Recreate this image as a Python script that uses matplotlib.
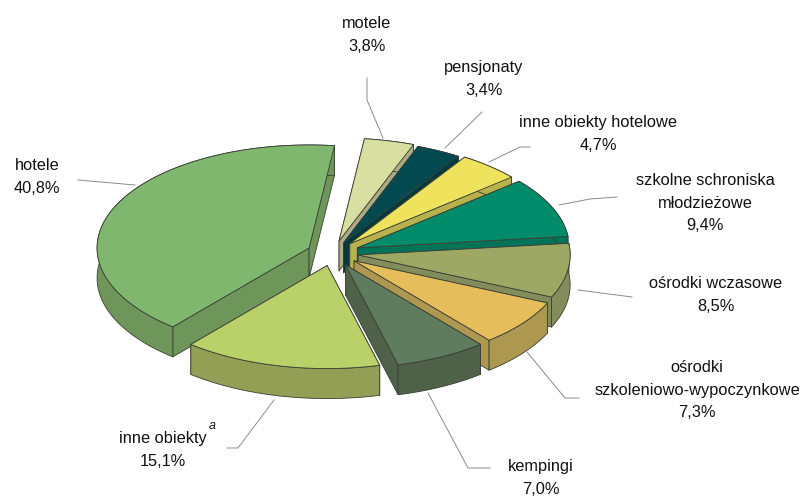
import numpy as np
import matplotlib
matplotlib.use("Agg")
import matplotlib.pyplot as plt

plt.rcParams['font.family'] = ['Liberation Sans', 'DejaVu Sans']

# Data, clockwise starting from hotele
categories = ["hotele", "motele", "pensjonaty", "inne obiekty hotelowe",
              "szkolne schroniska\nmłodzieżowe", "ośrodki wczasowe",
              "ośrodki\nszkoleniowo-wypoczynkowe", "kempingi", "inne obiekty"]
values = [40.8, 3.8, 3.4, 4.7, 9.4, 8.5, 7.3, 7.0, 15.1]
explode = [0.123, 0.12, 0.11, 0.12, 0.125, 0.12, 0.125, 0.13, 0.125]

top_colors = ["#80B76E", "#D9DEA1", "#034A50", "#EFE35D", "#008B6B",
              "#9EA865", "#E6BD5B", "#607C5E", "#BAD069"]
wall_colors = ["#6E955A", "#ACAC84", "#033A3E", "#B8B24D", "#007359",
               "#838C5B", "#AE974F", "#4F6149", "#939F54"]

# Pie geometry in pixels
cx, cy = 333, 253
rx, ry = 212, 103
depth = 30
start = -140.0  # clockwise from top
edge = "#3a3f35"

# label centres and leader lines in pixels
label_pos = [(37, 177), (367, 35), (484, 79), (598, 134), (705, 203),
             (716, 295), (697, 390), (541, 478), (163, 450)]
leaders = [[(78, 180), (135, 185)],
           [(367, 78), (367, 100), (383, 138)],
           [(482, 112), (445, 148)],
           [(530, 147), (520, 147), (489, 162)],
           [(617, 197), (590, 199), (559, 205)],
           [(632, 297), (578, 290)],
           [(579, 398), (565, 398), (527, 352)],
           [(490, 468), (468, 468), (428, 393)],
           [(227, 448), (238, 448), (274, 400)]]

fig = plt.figure(figsize=(8.11, 4.96), dpi=100)
ax = fig.add_axes([0, 0, 1, 1])
ax.set_xlim(0, 811)
ax.set_ylim(496, 0)
ax.axis("off")

shares = np.array(values) / sum(values) * 360
ends = start + np.cumsum(shares)
begins = ends - shares
mids = (begins + ends) / 2

# back slices first
order = np.argsort(-np.cos(np.radians(mids)))
for i in order:
    e = explode[i]
    m = np.radians(mids[i])
    ax0 = cx + e * rx * np.sin(m)
    ay0 = cy - e * ry * np.cos(m)
    th = np.radians(np.linspace(begins[i], ends[i], 80))
    xs = ax0 + rx * np.sin(th)
    ys = ay0 - ry * np.cos(th)
    kw = dict(edgecolor=edge, linewidth=0.6, joinstyle="round")
    for k in (0, -1):
        ax.fill([ax0, xs[k], xs[k], ax0],
                [ay0, ys[k], ys[k] + depth, ay0 + depth],
                facecolor=wall_colors[i], **kw)
    ax.fill(np.r_[xs, xs[::-1]], np.r_[ys, ys[::-1] + depth],
            facecolor=wall_colors[i], **kw)
    ax.fill(np.r_[ax0, xs], np.r_[ay0, ys], facecolor=top_colors[i], **kw)

for line in leaders:
    pts = np.array(line)
    ax.plot(pts[:, 0], pts[:, 1], color="#8a8a8a", lw=0.7)

for name, val, (x, y) in zip(categories, values, label_pos):
    txt = name + "\n" + f"{val:.1f}%".replace(".", ",")
    ax.text(x, y, txt, ha="center", va="center", fontsize=11.8,
            color="#111111", linespacing=1.62)
ax.text(212, 426, "a", fontsize=9, style="italic", ha="center", va="center",
        color="#111111")

fig.savefig("out.png", dpi=100)
